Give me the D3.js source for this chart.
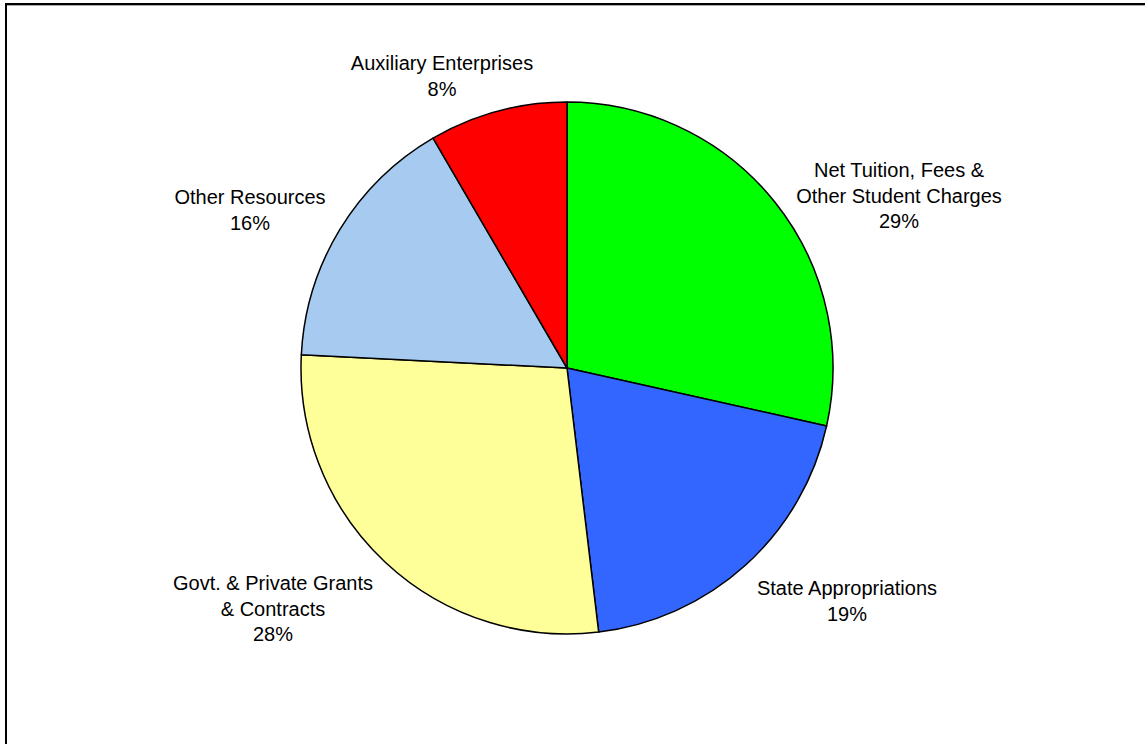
<html>
<head>
  <title>Revenue pie</title>
  <script src='https://d3js.org/d3.v7.min.js'></script>
  <style>
    body { margin: 0; background: #fff; }
    text { font-family: "Liberation Sans", Arial, sans-serif; font-size: 20px; fill: #000; }
  </style>
</head>
<body>
<script>
  // data (clockwise from 12 o'clock)
  var names = [
    ["Net Tuition, Fees &", "Other Student Charges"],
    ["State Appropriations"],
    ["Govt. & Private Grants", "& Contracts"],
    ["Other Resources"],
    ["Auxiliary Enterprises"]
  ];
  var values = [28.5, 19.6, 27.7, 15.8, 8.4];
  var pctLabels = ["29%", "19%", "28%", "16%", "8%"];
  var colors = ["#00ff00", "#3366ff", "#ffff99", "#a6caf0", "#ff0000"];

  // label layout: centre x and centre of first line
  var labelPos = [[899, 170], [847, 588], [273, 583], [250, 197], [442, 63]];

  var width = 1145, height = 744;
  var cx = 567, cy = 368, r = 266;

  var svg = d3.select('body').append('svg')
    .attr('width', width)
    .attr('height', height);

  // chart frame (runs off the right and bottom edge)
  svg.append('rect')
    .attr('x', 6).attr('y', 4)
    .attr('width', 1300).attr('height', 900)
    .attr('fill', '#fff')
    .attr('stroke', '#000')
    .attr('stroke-width', 2);
  svg.append('line')
    .attr('x1', 7).attr('x2', width).attr('y1', 5.5).attr('y2', 5.5)
    .attr('stroke', '#aaa').attr('stroke-width', 1);

  var pie = d3.pie().sort(null).value(function(d) { return d; });
  var arcs = pie(values);
  var arc = d3.arc().innerRadius(0).outerRadius(r);

  var g = svg.append('g').attr('transform', 'translate(' + cx + ',' + cy + ')');

  g.selectAll('path')
    .data(arcs)
    .enter()
    .append('path')
    .attr('d', arc)
    .attr('fill', function(d, i) { return colors[i]; })
    .attr('stroke', '#000')
    .attr('stroke-width', 1.5)
    .attr('stroke-linejoin', 'round');

  var lineH = 25.5;
  var labels = svg.append('g');
  arcs.forEach(function(d, i) {
    var lines = names[i].concat([pctLabels[i]]);
    var p = labelPos[i];
    labels.append('text')
      .attr('text-anchor', 'middle')
      .selectAll('tspan')
      .data(lines)
      .enter()
      .append('tspan')
      .attr('x', p[0])
      .attr('y', function(s, j) { return p[1] + 7 + j * lineH; })
      .text(function(s) { return s; });
  });
</script>
</body>
</html>
